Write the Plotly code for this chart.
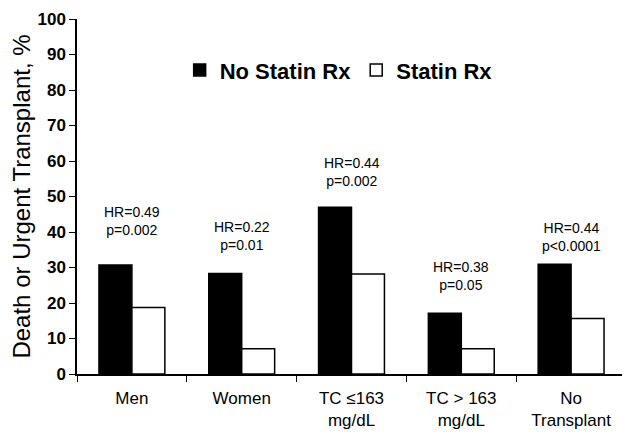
import plotly.graph_objects as go

categories = ["Men", "Women", "TC ≤163<br>mg/dL", "TC > 163<br>mg/dL", "No<br>Transplant"]
no_statin = [30.7, 28.3, 47.0, 17.1, 30.9]
statin = [18.7, 7.1, 28.2, 7.1, 15.6]
hr_labels = ["HR=0.49<br>p=0.002", "HR=0.22<br>p=0.01", "HR=0.44<br>p=0.002",
             "HR=0.38<br>p=0.05", "HR=0.44<br>p<0.0001"]
hr_y = [43.2, 38.9, 57.0, 27.7, 38.6]
y_ticks = [0, 10, 20, 30, 40, 50, 60, 70, 80, 90, 100]

FONT = "Liberation Sans, Arial, sans-serif"

fig = go.Figure()
fig.add_trace(go.Bar(x=categories, y=no_statin, name="No Statin Rx",
                     marker=dict(color="black", line=dict(color="black", width=1.5))))
fig.add_trace(go.Bar(x=categories, y=statin, name="Statin Rx",
                     marker=dict(color="white", line=dict(color="black", width=1.5))))

for c, t, yv in zip(categories, hr_labels, hr_y):
    fig.add_annotation(x=c, y=yv, text=t, showarrow=False,
                       font=dict(family=FONT, size=14, color="black"),
                       xanchor="center", yanchor="middle")

# page body has an 8px margin, so the figure is sized 8px smaller
fig.update_layout(
    width=622, height=431,
    margin=dict(l=69, r=4, t=11, b=65, autoexpand=False),
    paper_bgcolor="white", plot_bgcolor="white",
    barmode="group", bargap=0.4, bargroupgap=0,
    font=dict(family=FONT, color="black"),
    showlegend=True,
    legend=dict(orientation="h", x=0.187, y=0.856, xanchor="left", yanchor="middle",
                font=dict(family=FONT, size=22, weight="bold", color="black"),
                bgcolor="rgba(0,0,0,0)"),
)
fig.update_xaxes(showline=True, linecolor="black", linewidth=1.5, automargin=False,
                 ticks="outside", tickson="boundaries", ticklen=6, tickcolor="black",
                 tickfont=dict(family=FONT, size=17, color="black"), ticklabelstandoff=8,
                 showgrid=False, range=[-0.5, 4.5])
fig.update_yaxes(range=[0, 100], tickvals=y_ticks, showline=True, linecolor="black",
                 linewidth=1.5, ticks="outside", ticklen=6, tickcolor="black", automargin=False,
                 tickfont=dict(family=FONT, size=17, weight="bold", color="black"),
                 showgrid=False, zeroline=False,
                 title=dict(text="Death or Urgent Transplant, %",
                            font=dict(family=FONT, size=24, color="black"), standoff=8))

fig.write_html("out.html")
